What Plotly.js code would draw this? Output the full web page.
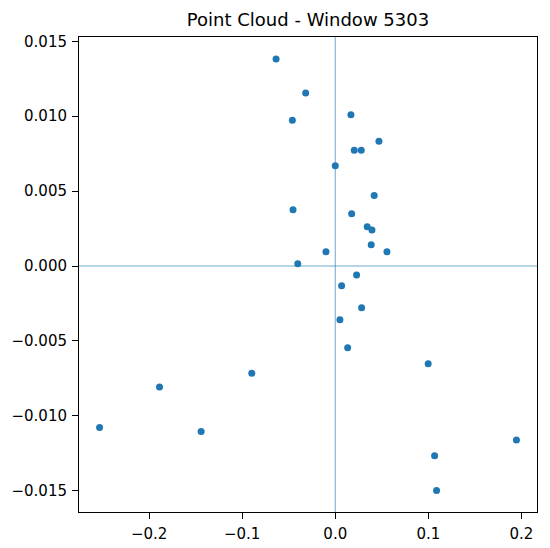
<!DOCTYPE html>
<html>
<head>
<meta charset="utf-8">
<script src="https://cdn.plot.ly/plotly-3.0.1.min.js"></script>
<style>
  html, body { margin: 0; padding: 0; background: #fff; }
  #chart { width: 550px; height: 548px; }
</style>
</head>
<body>
<div id="chart"></div>
<script>
// punkty
const xs = [-0.0636, -0.0318, -0.0461, 0.0168, 0.0204, 0.0279, 0.0469, 0.0000, 0.0418, -0.0454,
            0.0176, 0.0343, 0.0394, 0.0386, 0.0555, -0.0100, -0.0403, 0.0229, 0.0068, 0.0283,
            0.0050, 0.0133, 0.0998, -0.0897, -0.1888, -0.2532, -0.1441, 0.1946, 0.1067, 0.1088];
const ys = [0.01382, 0.01155, 0.00973, 0.01009, 0.00773, 0.00773, 0.00833, 0.00669, 0.00471, 0.00375,
            0.00349, 0.00262, 0.00240, 0.00142, 0.00095, 0.00095, 0.00015, -0.00060, -0.00131, -0.00278,
            -0.00358, -0.00545, -0.00653, -0.00716, -0.00807, -0.01078, -0.01105, -0.01162, -0.01267, -0.01498];

const xTicks = [-0.2, -0.1, 0.0, 0.1, 0.2];
const yTicks = [-0.015, -0.010, -0.005, 0.000, 0.005, 0.010, 0.015];
const origin = 0;

const blue = "#1f77b4";

const data = [{
  x: xs,
  y: ys,
  type: "scatter",
  mode: "markers",
  marker: {color: blue, size: 7},
  hoverinfo: "x+y"
}];

const axisCommon = {
  showline: true,
  mirror: true,
  linecolor: "black",
  linewidth: 1,
  ticks: "outside",
  ticklen: 6,
  tickwidth: 1,
  tickcolor: "black",
  ticklabelstandoff: 2,
  showgrid: false,
  zeroline: false,
  tickfont: {family: "DejaVu Sans", size: 15, color: "black"}
};

const layout = {
  width: 550,
  height: 548,
  margin: {l: 79, r: 13, t: 37, b: 36},
  paper_bgcolor: "white",
  plot_bgcolor: "white",
  showlegend: false,
  title: {
    text: "Point Cloud - Window 5303",
    font: {family: "DejaVu Sans", size: 18, color: "black"},
    xref: "paper", x: 0.5, xanchor: "center",
    yref: "container", y: 1 - 20 / 548, yanchor: "middle"
  },
  xaxis: Object.assign({}, axisCommon, {
    range: [-0.2753, 0.2167],
    tickvals: xTicks,
    tickformat: ".1f"
  }),
  yaxis: Object.assign({}, axisCommon, {
    range: [-0.01642, 0.015287],
    tickvals: yTicks,
    tickformat: ".3f"
  }),
  shapes: [
    {type: "line", xref: "x", yref: "paper", x0: origin, x1: origin, y0: 0, y1: 1,
     line: {color: blue, width: 0.8}, opacity: 0.8, layer: "below"},
    {type: "line", xref: "paper", yref: "y", x0: 0, x1: 1, y0: origin, y1: origin,
     line: {color: blue, width: 0.8}, opacity: 0.8, layer: "below"}
  ]
};

Plotly.newPlot("chart", data, layout, {displayModeBar: false, staticPlot: true});
</script>
</body>
</html>
